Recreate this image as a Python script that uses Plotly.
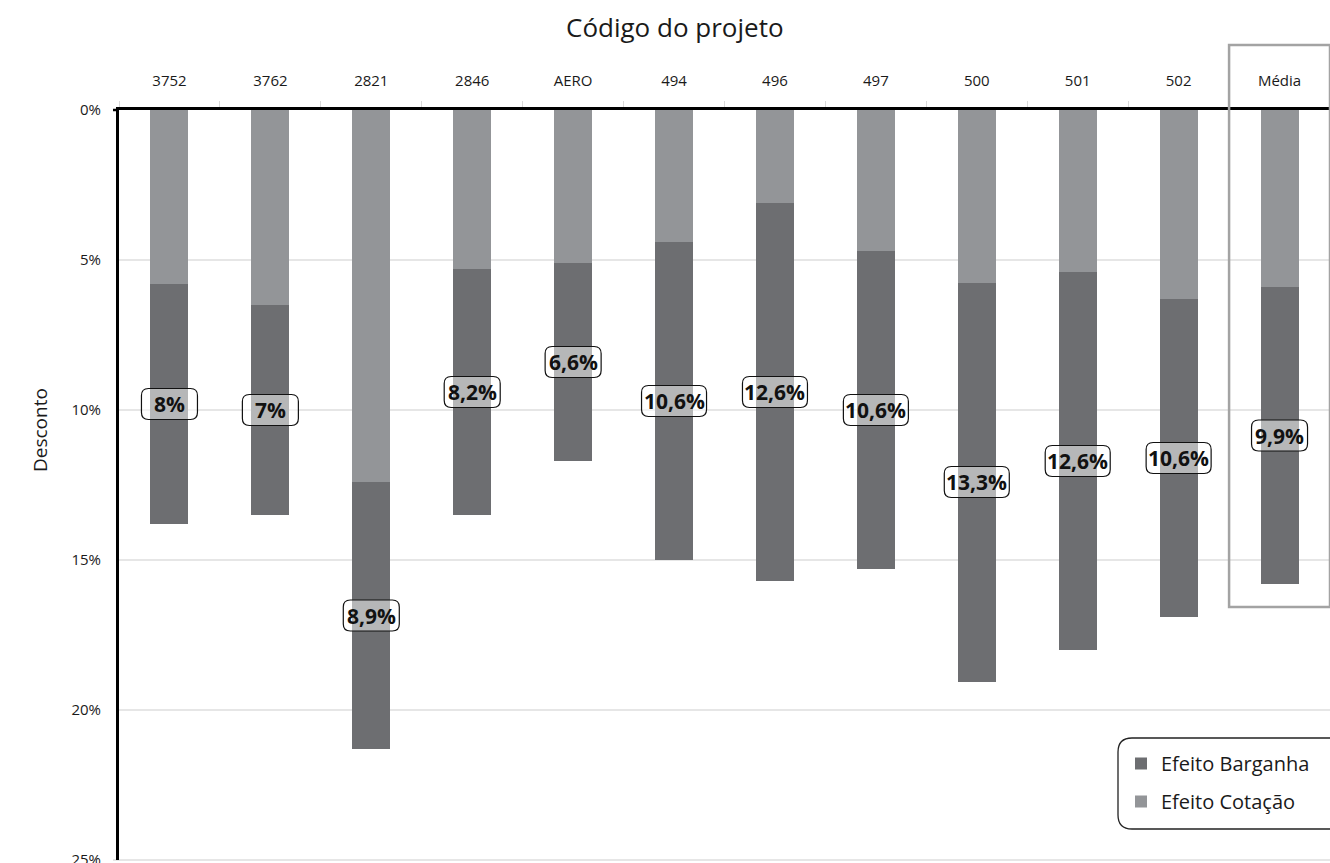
import plotly.graph_objects as go

# Discount split per project code (percent)
projetos = ["3752", "3762", "2821", "2846", "AERO", "494", "496", "497", "500", "501", "502", "Média"]
efeito_cotacao = [5.8, 6.5, 12.4, 5.3, 5.1, 4.4, 3.1, 4.7, 5.75, 5.4, 6.3, 5.9]
efeito_barganha = [8.0, 7.0, 8.9, 8.2, 6.6, 10.6, 12.6, 10.6, 13.3, 12.6, 10.6, 9.9]
y_ticks = [0, 5, 10, 15, 20, 25]
y_ticklabels = ["0%", "5%", "10%", "15%", "20%", "25%"]

COR_COTACAO = "#939598"
COR_BARGANHA = "#6d6e71"
FONTE = "Open Sans"

# plot area in pixels, used to place decorations in paper units
L, T, W, H = 119, 110, 1211, 750


def px_x(px):
    return (px - L) / W


def px_y(py):
    return 1 - (py - T) / H


def fmt(v):
    s = f"{v:.1f}".rstrip("0").rstrip(".")
    return s.replace(".", ",") + "%"


def rounded_rect(x0, y0, x1, y1, rx, ry):
    return (f"M{x0 + rx},{y0} L{x1 - rx},{y0} Q{x1},{y0} {x1},{y0 + ry} "
            f"L{x1},{y1 - ry} Q{x1},{y1} {x1 - rx},{y1} L{x0 + rx},{y1} "
            f"Q{x0},{y1} {x0},{y1 - ry} L{x0},{y0 + ry} Q{x0},{y0} {x0 + rx},{y0} Z")


fig = go.Figure()
fig.add_trace(go.Bar(
    x=projetos, y=efeito_cotacao, name="Efeito Cotação",
    legendgroup="cot", legendrank=2,
    marker=dict(color=COR_COTACAO, line=dict(width=0)),
))
fig.add_trace(go.Bar(
    x=projetos, y=efeito_barganha, name="Efeito Barganha",
    legendgroup="bar", legendrank=1,
    marker=dict(color=COR_BARGANHA, line=dict(width=0)),
))

shapes = []
annotations = []

# value boxes centred on each Barganha segment
for i, (c, b) in enumerate(zip(efeito_cotacao, efeito_barganha)):
    txt = fmt(b)
    w = max(56, 13 * len(txt))
    h = 31
    shapes.append(dict(
        type="path", xref="x", yref="y", xsizemode="pixel", ysizemode="pixel",
        xanchor=i, yanchor=c + b / 2,
        path=rounded_rect(-w / 2, -h / 2, w / 2, h / 2, 7, 7),
        fillcolor="rgba(255,255,255,0.5)", line=dict(color="#111111", width=1.2),
        layer="above",
    ))
    annotations.append(dict(
        x=i, y=c + b / 2, xref="x", yref="y", text=f"<b>{txt}</b>",
        showarrow=False, font=dict(family=FONTE, size=21, color="#111111"),
    ))

# frame around the average column
shapes.append(dict(
    type="rect", xref="x", yref="paper", x0=10.5, x1=11.5,
    y0=px_y(607), y1=px_y(45), line=dict(color="#a3a3a3", width=2.5),
    fillcolor="rgba(0,0,0,0)", layer="above",
))

# small tick at 0%
shapes.append(dict(
    type="line", xref="paper", yref="paper", x0=px_x(113), x1=0, y0=1, y1=1,
    line=dict(color="black", width=2.5),
))

# bottom gridline at 25%
shapes.append(dict(
    type="line", xref="paper", yref="paper", x0=px_x(113), x1=1, y0=0, y1=0,
    line=dict(color="#e6e6e6", width=2), layer="below",
))

# rounded legend frame
shapes.append(dict(
    type="path", xref="paper", yref="paper",
    path=rounded_rect(px_x(1118), px_y(829), px_x(1345), px_y(738),
                      14 / W, 14 / H),
    line=dict(color="#222222", width=1.3), fillcolor="rgba(0,0,0,0)",
))

annotations.append(dict(
    x=px_x(675), y=px_y(27), xref="paper", yref="paper", text="Código do projeto",
    showarrow=False, font=dict(family=FONTE, size=26, color="#1a1a1a"),
    xanchor="center", yanchor="middle",
))
annotations.append(dict(
    x=px_x(40), y=px_y(430), xref="paper", yref="paper", text="Desconto",
    showarrow=False, textangle=-90, font=dict(family=FONTE, size=19, color="#1a1a1a"),
    xanchor="center", yanchor="middle",
))

fig.update_layout(
    width=1330, height=863,
    margin=dict(l=L, r=1330 - L - W, t=T, b=863 - T - H, autoexpand=False),
    barmode="stack", bargap=0.623,
    plot_bgcolor="white", paper_bgcolor="white",
    font=dict(family=FONTE, color="#1a1a1a"),
    shapes=shapes, annotations=annotations,
    legend=dict(
        x=px_x(1121), y=px_y(744), xanchor="left", yanchor="top",
        font=dict(family=FONTE, size=20, color="#1a1a1a"),
        bgcolor="rgba(0,0,0,0)", borderwidth=0,
        traceorder="grouped", tracegroupgap=9,
    ),
    xaxis=dict(
        type="category", side="top", range=[-0.5, 11.5], automargin=False,
        showline=True, linecolor="black", linewidth=2.5,
        ticks="outside", tickson="boundaries", tickcolor="#d9d9d9", ticklen=6,
        tickfont=dict(family=FONTE, size=15, color="#1a1a1a"),
        ticklabelstandoff=15, showgrid=False, fixedrange=True,
    ),
    yaxis=dict(
        range=[25, 0], tickvals=y_ticks, ticktext=y_ticklabels, automargin=False,
        showgrid=True, gridcolor="#e6e6e6", gridwidth=2, zeroline=False,
        showline=True, linecolor="black", linewidth=3, ticks="",
        tickfont=dict(family=FONTE, size=15, color="#1a1a1a"),
        ticklabelstandoff=12, ticklabeloverflow="allow", fixedrange=True,
    ),
)

fig.write_html("out.html")
